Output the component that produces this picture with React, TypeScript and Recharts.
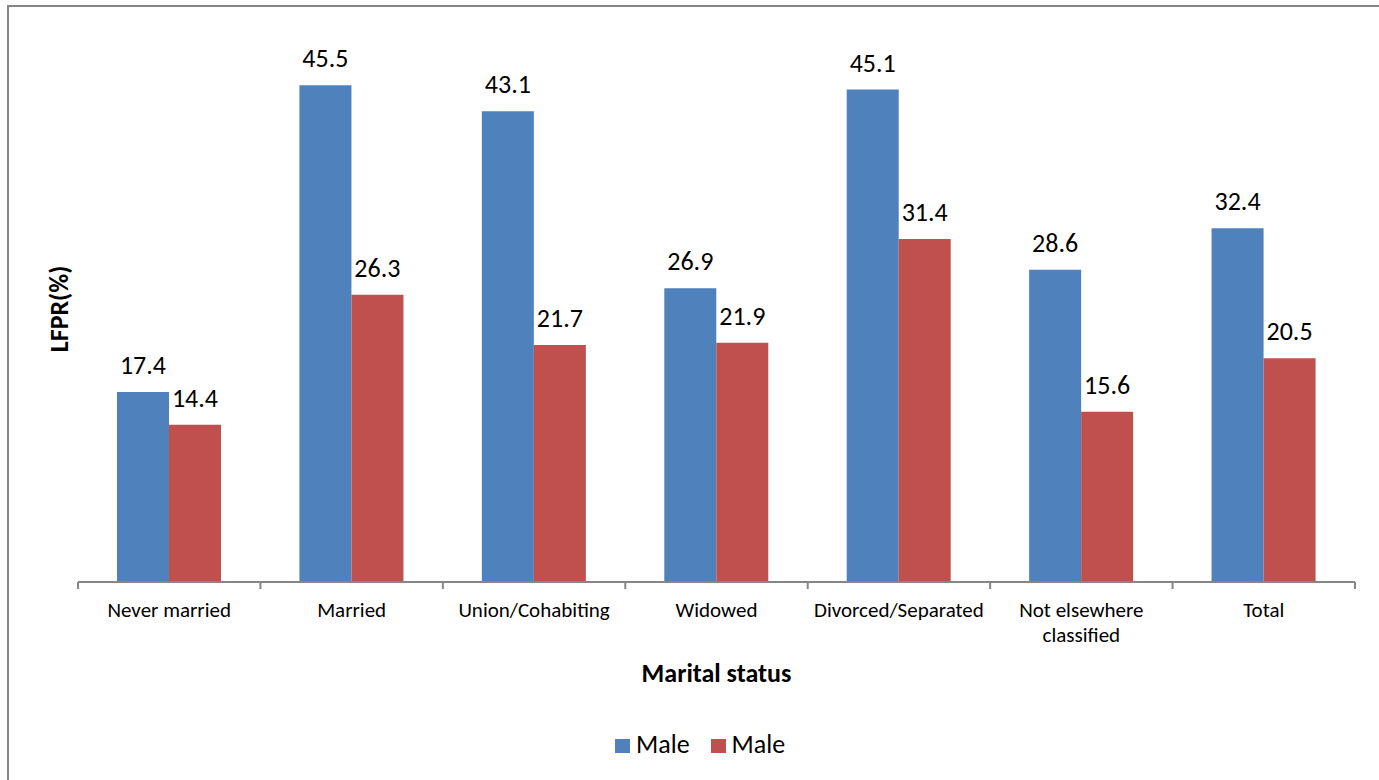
import React from 'react';
import { BarChart, Bar, XAxis, YAxis, LabelList, Legend, Text } from 'recharts';

const categories = [
  'Never married',
  'Married',
  'Union/Cohabiting',
  'Widowed',
  'Divorced/Separated',
  'Not elsewhere classified',
  'Total',
];
const firstSeries = [17.4, 45.5, 43.1, 26.9, 45.1, 28.6, 32.4];
const secondSeries = [14.4, 26.3, 21.7, 21.9, 31.4, 15.6, 20.5];
const seriesNames = ['Male', 'Male'];
const yDomain = [0, 50];

const WIDTH = 1379;
const HEIGHT = 780;
const PLOT_LEFT = 78;
const PLOT_RIGHT = 1355;
const PLOT_TOP = 36;
const PLOT_BOTTOM = 582;
const BAND = (PLOT_RIGHT - PLOT_LEFT) / categories.length;
const MAX_LINE_CHARS = 18;

const FONT = "Carlito, Calibri, Lato, 'Open Sans', sans-serif";
const AXIS_GREY = '#868686';
const BLUE = '#4F81BD';
const RED = '#C0504D';

const data = categories.map((name, i) => ({
  name,
  first: firstSeries[i],
  second: secondSeries[i],
}));

// greedy word wrap for the long category names
function wrapLabel(label: string): string[] {
  const lines: string[] = [];
  let current = '';
  label.split(' ').forEach((word) => {
    const next = current ? `${current} ${word}` : word;
    if (next.length > MAX_LINE_CHARS && current) {
      lines.push(current);
      current = word;
    } else {
      current = next;
    }
  });
  if (current) lines.push(current);
  return lines;
}

// Excel-style category axis: tick marks sit on the band edges, not the centres
function CategoryTick(props: any) {
  const { x, payload } = props;
  const left = x - BAND / 2;
  const isLast = payload.value === categories[categories.length - 1];
  const lines = wrapLabel(String(payload.value));
  return (
    <g>
      <line x1={left} x2={left} y1={PLOT_BOTTOM} y2={PLOT_BOTTOM + 7} stroke={AXIS_GREY} strokeWidth={2} />
      {isLast && (
        <line
          x1={left + BAND}
          x2={left + BAND}
          y1={PLOT_BOTTOM}
          y2={PLOT_BOTTOM + 7}
          stroke={AXIS_GREY}
          strokeWidth={2}
        />
      )}
      <text x={x} y={617} textAnchor="middle" fill="#000" style={{ fontSize: 21, fontFamily: FONT }}>
        {lines.map((line, i) => (
          <tspan key={i} x={x} dy={i === 0 ? 0 : 25}>
            {line}
          </tspan>
        ))}
      </text>
    </g>
  );
}

function YTitle(props: any) {
  const { viewBox } = props;
  const cy = viewBox.y + viewBox.height / 2;
  return (
    <Text
      x={59}
      y={cy}
      angle={-90}
      textAnchor="middle"
      verticalAnchor="middle"
      fill="#000"
      style={{ fontSize: 26, fontWeight: 700, fontFamily: FONT }}
    >
      LFPR(%)
    </Text>
  );
}

function LegendContent(props: any) {
  const items = props.payload || [];
  return (
    <div style={{ display: 'flex', alignItems: 'center', fontFamily: FONT, fontSize: 26, lineHeight: '31px', color: '#000' }}>
      {items.map((item: any, i: number) => (
        <span key={i} style={{ display: 'flex', alignItems: 'center', marginRight: 21 }}>
          <span
            style={{
              display: 'inline-block',
              width: 15,
              height: 14,
              background: item.color,
              marginRight: 6,
              position: 'relative',
              top: 1,
            }}
          />
          {item.value}
        </span>
      ))}
    </div>
  );
}

export default function App() {
  return (
    <div
      style={{
        position: 'absolute',
        left: 0,
        top: 0,
        width: WIDTH,
        height: HEIGHT,
        overflow: 'hidden',
        background: '#fff',
      }}
    >
      <div
        style={{
          position: 'absolute',
          left: 7,
          top: 5,
          width: WIDTH + 40,
          height: HEIGHT + 40,
          border: `2px solid ${AXIS_GREY}`,
        }}
      />
      <div style={{ position: 'absolute', left: 0, top: 0 }}>
        <BarChart
          width={WIDTH}
          height={HEIGHT}
          data={data}
          margin={{ top: PLOT_TOP, right: WIDTH - PLOT_RIGHT, bottom: HEIGHT - PLOT_BOTTOM - 110, left: 0 }}
          barGap={0}
          barSize={52}
        >
          <YAxis
            domain={yDomain}
            width={PLOT_LEFT}
            axisLine={false}
            tickLine={false}
            tick={false}
            label={<YTitle />}
          />
          <XAxis
            dataKey="name"
            height={110}
            axisLine={{ stroke: AXIS_GREY, strokeWidth: 2 }}
            tickLine={false}
            tick={<CategoryTick />}
            interval={0}
            label={{
              value: 'Marital status',
              position: 'insideBottom',
              offset: 10,
              style: { fontSize: 26, fontWeight: 700, fontFamily: FONT, fill: '#000' },
            }}
          />
          <Legend
            verticalAlign="middle"
            align="center"
            layout="horizontal"
            wrapperStyle={{ top: 729, left: 615, width: 300 }}
            content={<LegendContent />}
          />
          <Bar dataKey="first" name={seriesNames[0]} fill={BLUE} isAnimationActive={false}>
            <LabelList
              dataKey="first"
              position="top"
              offset={18}
              fill="#000"
              style={{ fontSize: 26, fontFamily: FONT }}
            />
          </Bar>
          <Bar dataKey="second" name={seriesNames[1]} fill={RED} isAnimationActive={false}>
            <LabelList
              dataKey="second"
              position="top"
              offset={18}
              fill="#000"
              style={{ fontSize: 26, fontFamily: FONT }}
            />
          </Bar>
        </BarChart>
      </div>
    </div>
  );
}
